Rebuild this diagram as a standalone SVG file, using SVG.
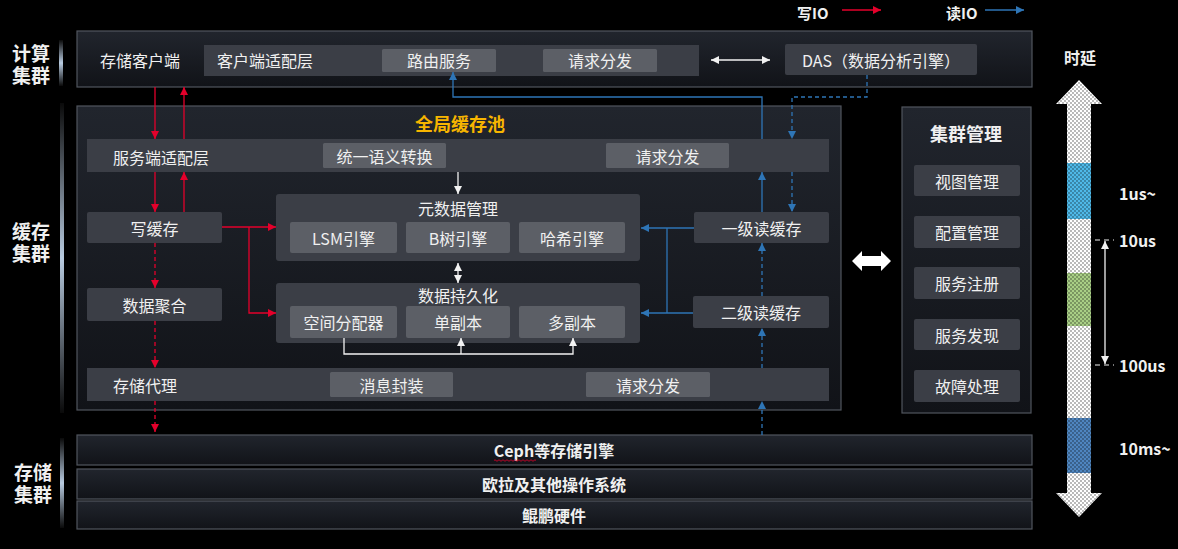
<svg xmlns="http://www.w3.org/2000/svg" width="1178" height="549" viewBox="0 0 1178 549">
<style>
text{font-family:"Noto Sans CJK SC","Liberation Sans",sans-serif;fill:#f0f0f0;font-size:16px;dominant-baseline:central}
.c{text-anchor:middle}
.b{font-weight:700}
.side{font-family:"Liberation Sans","Noto Sans CJK SC",sans-serif;font-size:19px;font-weight:700;text-anchor:middle}
.panel{fill:url(#pg);stroke:#50555e;stroke-width:1.2}
.bar{fill:#3b3e46}
.hi{fill:#5c5f66}
.grp{fill:#3b3e46}
.r{fill:none;stroke:#e4002b;stroke-width:1.3}
.bl{fill:none;stroke:#2e75b6;stroke-width:1.3}
.w{fill:none;stroke:#f2f2f2;stroke-width:1.3}
.d{stroke-dasharray:4 3}
</style>
<defs>
<linearGradient id="pg" x1="0" y1="0" x2="0" y2="1"><stop offset="0" stop-color="#21252d"/><stop offset="1" stop-color="#111318"/></linearGradient>
<linearGradient id="side" x1="0" y1="0" x2="0" y2="1"><stop offset="0" stop-color="#0a0a0a"/><stop offset="0.5" stop-color="#b8cbe0"/><stop offset="1" stop-color="#0a0a0a"/></linearGradient>
<marker id="ar" viewBox="0 0 10 10" refX="10" refY="5" markerWidth="8" markerHeight="8" markerUnits="userSpaceOnUse" orient="auto-start-reverse"><path d="M0,0L10,5L0,10z" fill="#e4002b"/></marker>
<marker id="ab" viewBox="0 0 10 10" refX="10" refY="5" markerWidth="8" markerHeight="8" markerUnits="userSpaceOnUse" orient="auto-start-reverse"><path d="M0,0L10,5L0,10z" fill="#2e75b6"/></marker>
<marker id="aw" viewBox="0 0 10 10" refX="10" refY="5" markerWidth="8" markerHeight="8" markerUnits="userSpaceOnUse" orient="auto-start-reverse"><path d="M0,0L10,5L0,10z" fill="#f2f2f2"/></marker>
<pattern id="dots" width="4" height="4" patternUnits="userSpaceOnUse"><circle cx="1" cy="1" r="0.9" fill="#000" fill-opacity="0.4"/><circle cx="3" cy="3" r="0.9" fill="#000" fill-opacity="0.4"/></pattern>
<clipPath id="lat"><polygon points="1079,80 1102,104 1091,104 1091,493 1102,493 1079,517 1056,493 1067,493 1067,104 1056,104"/></clipPath>
</defs>
<rect width="1178" height="549" fill="#000"/>

<g id="legend">
<text x="797" y="12" class="b" style="font-size:15px">写IO</text>
<path d="M842 10H881" class="r" marker-end="url(#ar)"/>
<text x="946" y="12" class="b" style="font-size:15px">读IO</text>
<path d="M985 10H1024" class="bl" marker-end="url(#ab)"/>
</g>

<g id="side-labels">
<rect x="59" y="40" width="4" height="46" fill="url(#side)"/>
<text class="side"><tspan x="31" y="54">计算</tspan><tspan x="31" y="76">集群</tspan></text>
<rect x="60" y="103" width="4" height="310" fill="url(#side)"/>
<text class="side"><tspan x="31" y="232">缓存</tspan><tspan x="31" y="254">集群</tspan></text>
<rect x="60" y="438" width="4" height="90" fill="url(#side)"/>
<text class="side"><tspan x="33" y="473">存储</tspan><tspan x="33" y="495">集群</tspan></text>
</g>

<g id="compute-cluster">
<rect x="77" y="31" width="955" height="56" class="panel"/>
<text x="140" y="60" class="c">存储客户端</text>
<rect x="204" y="45" width="495" height="31" class="bar"/>
<text x="217" y="60">客户端适配层</text>
<rect x="382" y="49" width="114" height="23" rx="1.5" class="hi"/>
<text x="439" y="60" class="c">路由服务</text>
<rect x="543" y="49" width="114" height="23" rx="1.5" class="hi"/>
<text x="600" y="60" class="c">请求分发</text>
<rect x="785" y="44" width="192" height="31" rx="2" class="bar"/>
<text x="881" y="60" class="c">DAS（数据分析引擎）</text>
</g>

<g id="global-cache-pool">
<rect x="77" y="106" width="764" height="304" class="panel"/>
<text x="460" y="123" class="c b" style="fill:#f7b500;font-size:18px">全局缓存池</text>
</g>

<g id="server-adapter">
<rect x="87" y="139" width="742" height="33" class="bar"/>
<text x="113" y="157">服务端适配层</text>
<rect x="323" y="143" width="123" height="25" rx="1.5" class="hi"/>
<text x="384.5" y="156" class="c">统一语义转换</text>
<rect x="606" y="143" width="123" height="25" rx="1.5" class="hi"/>
<text x="667.5" y="156" class="c">请求分发</text>
</g>

<g id="write-cache">
<rect x="87" y="212" width="135" height="31" rx="2" class="bar"/>
<text x="154.5" y="228" class="c">写缓存</text>
</g>
<g id="data-aggregation">
<rect x="87" y="288" width="135" height="33" rx="2" class="bar"/>
<text x="154.5" y="305" class="c">数据聚合</text>
</g>

<g id="storage-proxy">
<rect x="87" y="368" width="742" height="33" class="bar"/>
<text x="113" y="385">存储代理</text>
<rect x="330" y="372" width="123" height="25" rx="1.5" class="hi"/>
<text x="391.5" y="385" class="c">消息封装</text>
<rect x="586" y="372" width="124" height="25" rx="1.5" class="hi"/>
<text x="648" y="385" class="c">请求分发</text>
</g>

<g id="metadata-mgmt">
<rect x="276" y="194" width="364" height="67" rx="3" class="grp"/>
<text x="458" y="208" class="c">元数据管理</text>
<rect x="290" y="222" width="107" height="31" rx="2" class="hi"/>
<text x="343.5" y="238" class="c">LSM引擎</text>
<rect x="406" y="222" width="104" height="31" rx="2" class="hi"/>
<text x="458" y="238" class="c">B树引擎</text>
<rect x="519" y="222" width="106" height="31" rx="2" class="hi"/>
<text x="572" y="238" class="c">哈希引擎</text>
</g>

<g id="data-persistence">
<rect x="276" y="283" width="364" height="60" rx="3" class="grp"/>
<text x="458" y="295" class="c">数据持久化</text>
<rect x="290" y="306" width="107" height="32" rx="2" class="hi"/>
<text x="343.5" y="322" class="c">空间分配器</text>
<rect x="406" y="306" width="104" height="32" rx="2" class="hi"/>
<text x="458" y="322" class="c">单副本</text>
<rect x="519" y="306" width="106" height="32" rx="2" class="hi"/>
<text x="572" y="322" class="c">多副本</text>
</g>

<g id="l1-read-cache">
<rect x="694" y="212" width="135" height="31" rx="2" class="bar"/>
<text x="761.5" y="228" class="c">一级读缓存</text>
</g>
<g id="l2-read-cache">
<rect x="693" y="296" width="136" height="32" rx="2" class="bar"/>
<text x="761" y="312" class="c">二级读缓存</text>
</g>

<g id="cluster-mgmt">
<rect x="902" y="107" width="129" height="306" class="panel"/>
<text x="966" y="133" class="c b" style="font-size:18px">集群管理</text>
<rect x="914" y="165" width="106" height="31" rx="2" class="bar"/>
<text x="967" y="181" class="c">视图管理</text>
<rect x="914" y="216" width="106" height="32" rx="2" class="bar"/>
<text x="967" y="232" class="c">配置管理</text>
<rect x="914" y="267" width="106" height="32" rx="2" class="bar"/>
<text x="967" y="283" class="c">服务注册</text>
<rect x="914" y="319" width="106" height="31" rx="2" class="bar"/>
<text x="967" y="335" class="c">服务发现</text>
<rect x="914" y="370" width="106" height="32" rx="2" class="bar"/>
<text x="967" y="386" class="c">故障处理</text>
</g>

<g id="storage-layers">
<rect x="77" y="435" width="955" height="30" class="panel"/>
<text x="554" y="450" class="c b">Ceph等存储引擎</text>
<path d="M494 460.5q1-1.5 2 0t2 0t2 0t2 0t2 0t2 0t2 0t2 0t2 0t2 0t2 0t2 0t2 0t2 0t2 0t2 0t2 0t2 0t2 0t2 0t2 0" fill="none" stroke="#e4002b" stroke-width="0.8"/>
<rect x="77" y="469" width="955" height="30" class="panel"/>
<text x="554" y="484" class="c b">欧拉及其他操作系统</text>
<rect x="77" y="501" width="955" height="28" class="panel"/>
<text x="554" y="515" class="c b">鲲鹏硬件</text>
</g>

<g id="connectors">
<path d="M155 87V139" class="r" marker-end="url(#ar)"/>
<path d="M184 139V87" class="r" marker-end="url(#ar)"/>
<path d="M155 172V212" class="r" marker-end="url(#ar)"/>
<path d="M184 212V172" class="r" marker-end="url(#ar)"/>
<path d="M155 243V288" class="r d" marker-end="url(#ar)"/>
<path d="M155 321V368" class="r d" marker-end="url(#ar)"/>
<path d="M155 401V432" class="r d" marker-end="url(#ar)"/>
<path d="M222 227H276" class="r" marker-end="url(#ar)"/>
<path d="M249 227V313H276" class="r" marker-end="url(#ar)"/>

<path d="M762 139V97H453V72" class="bl" marker-end="url(#ab)"/>
<path d="M762 212V172" class="bl" marker-end="url(#ab)"/>
<path d="M867 75V97H792V139" class="bl d" marker-end="url(#ab)"/>
<path d="M792 172V212" class="bl d" marker-end="url(#ab)"/>
<path d="M694 228H641" class="bl" marker-end="url(#ab)"/>
<path d="M693 313H641" class="bl" marker-end="url(#ab)"/>
<path d="M667 228V313" class="bl"/>
<path d="M762 296V243" class="bl d" marker-end="url(#ab)"/>
<path d="M762 368V328" class="bl d" marker-end="url(#ab)"/>
<path d="M762 435V401" class="bl d" marker-end="url(#ab)"/>

<path d="M458 172V194" class="w" marker-end="url(#aw)"/>
<path d="M458 263V283" class="w" marker-start="url(#aw)" marker-end="url(#aw)"/>
<path d="M344 338V354H573V338" class="w" marker-end="url(#aw)"/>
<path d="M461 354V338" class="w" marker-end="url(#aw)"/>
<path d="M711 60H770" class="w" marker-start="url(#aw)" marker-end="url(#aw)"/>
<polygon points="852,261 862,251 862,256 881,256 881,251 891,261 881,271 881,266 862,266 862,271" fill="#fff"/>
</g>

<g id="latency">
<text x="1080" y="57" class="c b">时延</text>
<g clip-path="url(#lat)">
<rect x="1050" y="78" width="60" height="442" fill="#fff"/>
<rect x="1066" y="163" width="26" height="56" fill="#4fb9e8"/>
<rect x="1066" y="273" width="26" height="53" fill="#a9cf86"/>
<rect x="1066" y="418" width="26" height="55" fill="#4f86c0"/>
<rect x="1050" y="78" width="60" height="442" fill="url(#dots)"/>
</g>
<path d="M1095 240H1114M1095 365H1114" stroke="#f2f2f2" stroke-width="1" stroke-dasharray="5 4"/>
<path d="M1105 241V364" class="w" stroke-width="1" marker-start="url(#aw)" marker-end="url(#aw)"/>
<text x="1119" y="193" class="b">1us~</text>
<text x="1119" y="240" class="b">10us</text>
<text x="1119" y="365" class="b">100us</text>
<text x="1119" y="448" class="b">10ms~</text>
</g>
</svg>
